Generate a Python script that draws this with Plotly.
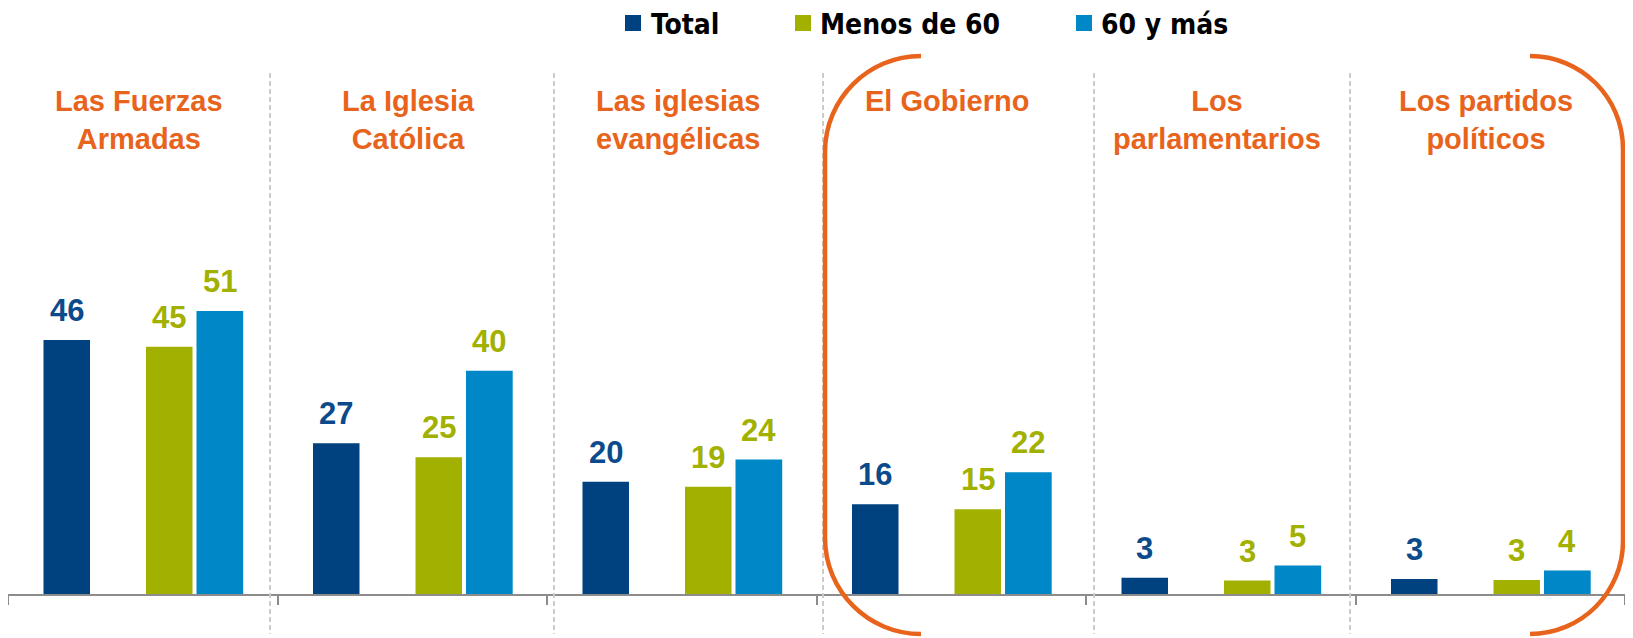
import plotly.graph_objects as go

# ---------------- data ----------------
categories = ["Las Fuerzas<br>Armadas", "La Iglesia<br>Católica", "Las iglesias<br>evangélicas",
              "El Gobierno", "Los<br>parlamentarios", "Los partidos<br>políticos"]
series_names = ["Total", "Menos de 60", "60 y más"]
total = [45.5, 27.0, 20.1, 16.1, 2.9, 2.7]
menos_60 = [44.3, 24.5, 19.2, 15.2, 2.4, 2.5]
mas_60 = [50.7, 40.0, 24.1, 21.8, 5.1, 4.2]
total_labels = ["46", "27", "20", "16", "3", "3"]
menos_60_labels = ["45", "25", "19", "15", "3", "3"]
mas_60_labels = ["51", "40", "24", "22", "5", "4"]

# ---------------- styling ----------------
OFF = 8                      # page body margin of the html page
W, H = 1633 - OFF, 638 - OFF
ML, MR, MT, MB = 0, 8, 0, 44
PW, PH = W - ML - MR, H - MT - MB
Y_MAX = PH / 5.58

C_TOTAL = "#00417F"
C_MENOS = "#A2B000"
C_MAS = "#0087C7"
C_LBL_TOTAL = "#0B4A8B"
C_ORANGE = "#E8641C"
C_AXIS = "#8C8C8C"
C_DASH = "#CFCBCB"
LBL_FONT = "Liberation Sans, Arial, sans-serif"
LEG_FONT = "DejaVu Sans Condensed, DejaVu Sans, sans-serif"

GW = PW / 6.0  # pixel width of one group
offsets = [-99.25 / GW, 3.25 / GW, 53.75 / GW]
widths = [46.5 / GW, 46.5 / GW, 46.7 / GW]


def px(x):
    # x given in window pixels
    return (x - OFF - ML) / PW


def py(y):
    # y given in window pixels
    return (MT + PH - (y - OFF)) / PH


xs = list(range(len(categories)))
fig = go.Figure()

series = [(total, total_labels, C_TOTAL, C_LBL_TOTAL),
          (menos_60, menos_60_labels, C_MENOS, C_MENOS),
          (mas_60, mas_60_labels, C_MAS, C_MENOS)]

annotations = []
for k, (vals, lbls, col, lcol) in enumerate(series):
    fig.add_trace(go.Bar(
        x=xs, y=vals, name=series_names[k],
        offset=offsets[k], width=widths[k],
        marker=dict(color=col, line=dict(width=0)),
        showlegend=False, hoverinfo="skip",
    ))
    for i, (v, t) in enumerate(zip(vals, lbls)):
        annotations.append(dict(
            x=i + offsets[k] + widths[k] / 2, y=v, xref="x", yref="y",
            text=t, showarrow=False, xanchor="center", yanchor="bottom",
            yshift=10,
            font=dict(family=LBL_FONT, size=31, color=lcol, weight="bold"),
        ))

# category titles
for i, c in enumerate(categories):
    annotations.append(dict(
        x=i, y=py(83), xref="x", yref="paper", text=c, showarrow=False,
        xanchor="center", yanchor="top", align="center", xshift=-4,
        font=dict(family=LBL_FONT, size=29, color=C_ORANGE, weight="bold"),
    ))

shapes = []
# manual legend
leg_sq = [625, 795, 1076]
leg_txt = [649, 818, 1099]
for name, col, sx, tx in zip(series_names, [C_TOTAL, C_MENOS, C_MAS], leg_sq, leg_txt):
    shapes.append(dict(type="rect", xref="paper", yref="paper",
                       x0=px(sx), x1=px(sx + 16), y0=py(15), y1=py(31),
                       fillcolor=col, line=dict(width=0)))
    annotations.append(dict(
        x=px(tx), y=py(43.5), xref="paper", yref="paper", text=name,
        showarrow=False, xanchor="left", yanchor="bottom",
        font=dict(family=LEG_FONT, size=28, color="#000000", weight="bold"),
    ))

# dashed separators
for dx in [270, 554, 823, 1094, 1350]:
    shapes.append(dict(type="line", xref="paper", yref="paper",
                       x0=px(dx), x1=px(dx), y0=py(73), y1=py(634),
                       line=dict(color=C_DASH, width=2, dash="5px,3px")))


def bracket(x_end, x_side, y_top, y_bot, r):
    k = 0.5523 * r
    s = 1 if x_side > x_end else -1
    pts = [
        ("M", [(x_end, y_top)]),
        ("C", [(x_end + s * k, y_top), (x_side, y_top + r - k), (x_side, y_top + r)]),
        ("L", [(x_side, y_bot - r)]),
        ("C", [(x_side, y_bot - r + k), (x_end + s * k, y_bot), (x_end, y_bot)]),
    ]
    path = ""
    for cmd, ps in pts:
        path += cmd + " ".join(f"{px(a):.5f},{py(b):.5f}" for a, b in ps) + " "
    return path.strip()


for xe, xsd, r in [(921, 825, 96), (1530, 1623, 93)]:
    shapes.append(dict(type="path", xref="paper", yref="paper",
                       path=bracket(xe, xsd, 56, 634, r),
                       line=dict(color=C_ORANGE, width=4.5)))

fig.update_layout(
    width=W, height=H,
    margin=dict(l=ML, r=MR, t=MT, b=MB, pad=0),
    paper_bgcolor="white", plot_bgcolor="white",
    barmode="overlay",
    showlegend=False,
    annotations=annotations, shapes=shapes,
    xaxis=dict(range=[-0.5, 5.5], tickvals=[i - 0.5 for i in range(7)],
               showticklabels=False, ticks="outside", ticklen=9, tickwidth=2,
               tickcolor=C_AXIS, showline=True, linecolor=C_AXIS, linewidth=2,
               showgrid=False, zeroline=False, fixedrange=True),
    yaxis=dict(range=[0, Y_MAX], visible=False, showgrid=False, zeroline=False,
               fixedrange=True),
)

fig.write_html("out.html", config={"displayModeBar": False})
